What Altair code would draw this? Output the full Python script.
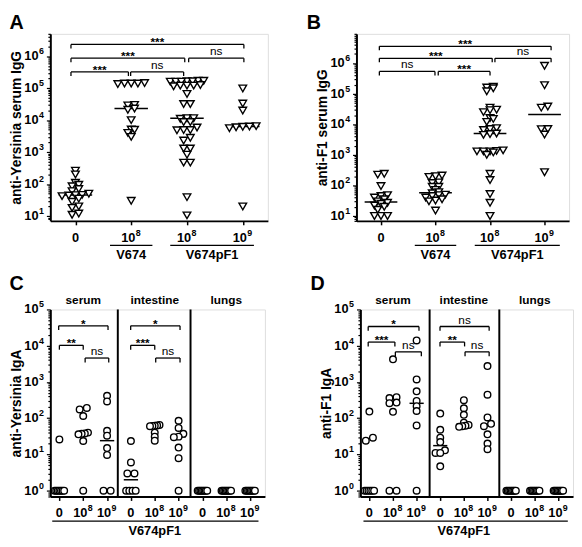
import altair as alt
import numpy as np
import pandas as pd

FONT = "Liberation Sans"

# ---------------- Panel A: anti-Yersinia serum IgG ----------------
A_tick_base = ["0", "10", "10", "10"]
A_tick_exp = ["", "8", "8", "9"]
A_g0 = [263, 200, 110, 95, 85, 70, 60, 50, 46, 45, 44, 42, 35, 28, 20, 18, 11, 12]
A_g1 = [145000, 140000, 140000, 135000, 140000, 30000, 29000, 23000, 21000, 10000,
        5100, 5000, 4000, 3000, 30]
A_g2 = [170000, 165000, 160000, 160000, 165000, 170000, 160000, 120000, 120000, 115000,
        125000, 120000, 66000, 32000, 32000, 11500, 11500, 11000, 8700, 8700, 5900,
        4900, 4900, 4800, 2300, 2800, 1300, 1300, 830, 470, 470, 39, 10.5]
A_g3 = [98000, 33000, 20000, 6500, 6300, 6200, 6000, 5600, 20]
A_br_x1 = [-0.08, 0.99, -0.08, 2.03, -0.08]
A_br_x2 = [0.95, 1.94, 1.96, 3.02, 3.02]
A_br_lvl = [5.51, 5.51, 5.94, 5.94, 6.37]
A_br_txt = ["***", "ns", "***", "ns", "***"]
AB_groups_txt = ["V674", "V674pF1"]

# ---------------- Panel B: anti-F1 serum IgG ----------------
B_g0 = [240, 225, 95, 48, 45, 40, 35, 30, 27, 25, 22, 20, 16, 10, 10, 10]
B_g1 = [210, 200, 190, 125, 120, 90, 90, 71, 60, 55, 50, 48, 45, 40, 35, 32, 30, 15]
B_g2 = [170000, 160000, 150000, 120000, 35000, 30000, 29000, 25000, 16000, 15000, 12000,
        7500, 7000, 6500, 5000, 4800, 4500, 1400, 1350, 1300, 1300, 1300, 1200, 1000,
        240, 150, 52, 27, 10]
B_g3 = [820000, 190000, 38000, 35000, 7000, 6900, 4600, 270]
B_br_x1 = [-0.03, 1.05, -0.03, 2.09, -0.03]
B_br_x2 = [0.99, 2.0, 2.04, 3.12, 3.12]
B_br_lvl = [5.73, 5.73, 6.16, 6.16, 6.55]
B_br_txt = ["ns", "***", "***", "ns", "***"]

# ---------------- Panel C: anti-Yersinia IgA ----------------
CD_tick_base = ["0", "10", "10"] * 3
CD_tick_exp = ["", "8", "9"] * 3
CD_tissues = ["serum", "intestine", "lungs"]
C_groups = [
    [26, 1, 1, 1, 1, 1, 1, 1],
    [192, 174, 115, 40, 38, 37, 36, 23.5, 1],
    [415, 290, 45, 33, 15, 9.7, 1, 1],
    [23.5, 6, 3, 3, 1, 1, 1, 1],
    [65, 63, 62, 61, 60, 40, 31, 24],
    [85, 54, 37, 31, 30, 15.5, 7.9, 1],
    [1, 1, 1, 1, 1, 1, 1, 1],
    [1, 1, 1, 1, 1, 1, 1, 1],
    [1, 1, 1, 1, 1, 1, 1, 1],
]
C_br_x1 = [-0.03, 0.0, 1.08, 2.99, 2.99, 4.04]
C_br_x2 = [2.04, 1.0, 2.07, 5.06, 4.0, 5.06]
C_br_lvl = [4.55, 4.01, 3.66, 4.55, 4.01, 3.66]
C_br_txt = ["*", "**", "ns", "*", "***", "ns"]

# ---------------- Panel D: anti-F1 IgA ----------------
D_groups = [
    [152, 29, 24, 1, 1, 1, 1, 1, 1],
    [4200, 380, 360, 270, 260, 150, 1, 1],
    [14000, 1170, 550, 300, 215, 158, 63, 1],
    [134, 48, 29, 22, 13, 11, 11, 4.7],
    [315, 188, 124, 75, 65, 62, 60, 58],
    [2750, 445, 105, 70, 60, 36, 20, 14],
    [1, 1, 1, 1, 1, 1, 1, 1],
    [1, 1, 1, 1, 1, 1, 1, 1],
    [1, 1, 1, 1, 1, 1, 1, 1],
]
D_br_x1 = [-0.05, -0.05, 1.1, 2.99, 2.99, 4.05]
D_br_x2 = [2.1, 1.08, 2.2, 5.07, 4.03, 5.07]
D_br_lvl = [4.53, 4.10, 3.83, 4.53, 4.10, 3.83]
D_br_txt = ["*", "***", "ns", "ns", "**", "ns"]


# ---------------- helpers ----------------
def swarm_x(values, center, row_dec=0.1, step=0.12, maxhalf=0.3):
    logs = np.log10(np.asarray(values, float))
    order = np.argsort(logs, kind="stable")
    rows, cur = [], [order[0]]
    for idx in order[1:]:
        if logs[idx] - logs[cur[0]] < row_dec:
            cur.append(idx)
        else:
            rows.append(cur)
            cur = [idx]
    rows.append(cur)
    xs = np.zeros(len(values))
    for r in rows:
        k = len(r)
        sp = step if k == 1 else min(step, 2 * maxhalf / (k - 1))
        for i, idx in enumerate(r):
            xs[idx] = center + (i - (k - 1) / 2) * sp
    return xs


def points_df(groups, step, maxhalf):
    rows = []
    for c, vals in enumerate(groups):
        for x, v in zip(swarm_x(vals, c, step=step, maxhalf=maxhalf), vals):
            rows.append({"x": float(x), "y": float(v)})
    return pd.DataFrame(rows)


def medians_df(groups, half):
    return pd.DataFrame({
        "x": [c - half for c in range(len(groups))],
        "x2": [c + half for c in range(len(groups))],
        "y": [float(np.median(g)) for g in groups],
    })


def y_ticks(lo, hi):
    vals, majors = [], []
    for k in range(int(np.floor(lo)), int(np.ceil(hi)) + 1):
        for m in range(1, 10):
            v = m * 10 ** k if k >= 0 else round(m * 10.0 ** k, 6)
            if 10 ** lo <= v <= 10 ** hi:
                vals.append(v)
                if m == 1:
                    majors.append((k, v))
    return vals, majors


def y_axis(title, vals, majors, title_pad):
    test = " || ".join(f"datum.value == {v}" for k, v in majors)
    return alt.Axis(
        title=title, values=vals, labels=False, grid=False,
        tickSize={"condition": {"test": test, "value": 4}, "value": 2.5},
        tickColor="black", tickWidth=1.2, domainColor="black", domainWidth=2,
        titleFont=FONT, titleFontSize=14, titleFontWeight="bold", titleColor="black",
        titlePadding=title_pad,
    )


def x_axis(n):
    return alt.Axis(
        values=list(range(n)), labels=False, title=None, grid=False, tickSize=4,
        tickColor="black", tickWidth=1.5, domainColor="black", domainWidth=2,
    )


def txt(**kw):
    base = dict(font=FONT, color="black", fill="black", fontWeight="bold")
    base.update(kw)
    return base


def panel(letter, title_dx, groups, tick_base, tick_exp, xdom, ylo, yhi, ytitle, title_pad,
          br, drop, shape, size, step, maxhalf, under, width, height, dividers=None,
          tissues=None):
    n = len(groups)
    X = alt.X("x:Q", scale=alt.Scale(domain=xdom, nice=False, zero=False), axis=x_axis(n))
    vals, majors = y_ticks(ylo, yhi)
    Y = alt.Y("y:Q", scale=alt.Scale(type="log", domain=[10 ** ylo, 10 ** yhi], nice=False),
              axis=y_axis(ytitle, vals, majors, title_pad))
    pts = points_df(groups, step, maxhalf)
    meds = medians_df(groups, 0.3)
    x1s, x2s, lvls, txts = br
    hb = pd.DataFrame({"x": x1s, "x2": x2s, "y": [10 ** l for l in lvls]})
    vb = pd.DataFrame({"x": list(x1s) + list(x2s), "y": [10 ** l for l in lvls] * 2,
                       "y2": [10 ** (l - drop) for l in lvls] * 2})
    tb = pd.DataFrame({"x": [(a + b) / 2 for a, b in zip(x1s, x2s)],
                       "y": [10 ** l for l in lvls], "label": txts})
    stars = tb[tb.label != "ns"]
    ns = tb[tb.label == "ns"]

    ylab = pd.DataFrame({"y": [v for k, v in majors], "base": ["10"] * len(majors),
                         "exp": [str(k) for k, v in majors]})
    xlab = pd.DataFrame({"x": list(range(n)), "base": tick_base, "exp": tick_exp})
    xlab_num = xlab[xlab.exp == ""]
    xlab_pow = xlab[xlab.exp != ""]

    layers = [
        alt.Chart(meds).mark_rule(color="black", strokeWidth=1.5).encode(x=X, x2="x2:Q", y=Y),
        alt.Chart(pts).mark_point(shape=shape, size=size, fill="white", stroke="black",
                                  strokeWidth=1.4, opacity=1, fillOpacity=1).encode(x=X, y=Y),
        alt.Chart(hb).mark_rule(color="black", strokeWidth=1.3).encode(x=X, x2="x2:Q", y=Y),
        alt.Chart(vb).mark_rule(color="black", strokeWidth=1.3).encode(x=X, y=Y, y2="y2:Q"),
        alt.Chart(stars).mark_text(**txt(baseline="bottom", dy=5, fontSize=12))
        .encode(x=X, y=Y, text="label:N"),
        alt.Chart(ns).mark_text(**txt(baseline="bottom", dy=0, fontSize=12, fontWeight="normal"))
        .encode(x=X, y=Y, text="label:N"),
        # y tick labels: 10 with superscript exponent
        alt.Chart(ylab).mark_text(**txt(align="right", baseline="middle", fontSize=13))
        .encode(x=alt.value(-12), y=Y, text="base:N"),
        alt.Chart(ylab).mark_text(**txt(align="left", baseline="middle", fontSize=9, dx=-11.5, dy=-5))
        .encode(x=alt.value(0), y=Y, text="exp:N"),
        # x tick labels
        alt.Chart(xlab_num).mark_text(**txt(align="center", baseline="middle", fontSize=13))
        .encode(x=X, y=alt.value(height + 17), text="base:N"),
        alt.Chart(xlab_pow).mark_text(**txt(align="center", baseline="middle", fontSize=13, dx=-3))
        .encode(x=X, y=alt.value(height + 17), text="base:N"),
        alt.Chart(xlab_pow).mark_text(**txt(align="left", baseline="middle", fontSize=9, dx=4.5, dy=-5))
        .encode(x=X, y=alt.value(height + 17), text="exp:N"),
    ]
    ux1, ux2, utxt, ucx = under
    udf = pd.DataFrame({"x": ux1, "x2": ux2})
    utd = pd.DataFrame({"x": ucx, "label": utxt})
    layers.append(alt.Chart(udf).mark_rule(color="black", strokeWidth=1.3)
                  .encode(x=X, x2="x2:Q", y=alt.value(height + 25)))
    layers.append(alt.Chart(utd).mark_text(**txt(baseline="middle", fontSize=13))
                  .encode(x=X, y=alt.value(height + 35), text="label:N"))
    if dividers is not None:
        ddf = pd.DataFrame({"x": dividers})
        layers.append(alt.Chart(ddf).mark_rule(color="black", strokeWidth=2).encode(x=X))
        tdf = pd.DataFrame({"x": [1, 4, 7], "label": tissues})
        layers.append(alt.Chart(tdf).mark_text(**txt(baseline="bottom", fontSize=12))
                      .encode(x=X, y=alt.value(-3), text="label:N"))
    return alt.layer(*layers).properties(
        width=width, height=height,
        title=alt.TitleParams(letter, anchor="start", frame="bounds", fontSize=20,
                              fontWeight="bold", font=FONT, color="black", offset=0, dx=title_dx),
    )


H = 190
A = panel("A", 0, [A_g0, A_g1, A_g2, A_g3], A_tick_base, A_tick_exp, [-0.45, 3.45], 0.85, 6.70,
          "anti-Yersinia serum IgG", 23,
          (A_br_x1, A_br_x2, A_br_lvl, A_br_txt), 0.13, "triangle-down", 60, 0.12, 0.3,
          ([0.62, 1.7], [1.38, 3.2], AB_groups_txt, [1.0, 2.45]), 221, H)
B = panel("B", -9, [B_g0, B_g1, B_g2, B_g3], A_tick_base, A_tick_exp, [-0.45, 3.45], 0.84, 6.96,
          "anti-F1 serum IgG", 23,
          (B_br_x1, B_br_x2, B_br_lvl, B_br_txt), 0.13, "triangle-down", 60, 0.12, 0.3,
          ([0.62, 1.72], [1.38, 3.28], AB_groups_txt, [1.0, 2.5]), 216, H)
C = panel("C", 0, C_groups, CD_tick_base, CD_tick_exp, [-0.38, 8.62], -0.16, 5.0,
          "anti-Yersinia IgA", 23,
          (C_br_x1, C_br_x2, C_br_lvl, C_br_txt), 0.12, "circle", 45, 0.3, 0.2,
          ([-0.3], [8.35], ["V674pF1"], [4.0]), 218, H, dividers=[2.45, 5.5], tissues=CD_tissues)
D = panel("D", -9, D_groups, CD_tick_base, CD_tick_exp, [-0.38, 8.62], -0.16, 5.0,
          "anti-F1 IgA", 23,
          (D_br_x1, D_br_x2, D_br_lvl, D_br_txt), 0.12, "circle", 45, 0.3, 0.2,
          ([-0.25], [8.4], ["V674pF1"], [4.0]), 216, H, dividers=[2.55, 5.5], tissues=CD_tissues)

chart = alt.vconcat(
    alt.hconcat(A, B, spacing=37),
    alt.hconcat(C, D, spacing=44),
    spacing=10,
).properties(padding=0).configure_view(stroke="black", strokeWidth=2).configure(font=FONT)

chart.save("out.html", embed_options={"renderer": "svg", "actions": False})
